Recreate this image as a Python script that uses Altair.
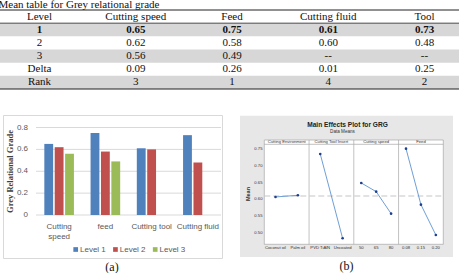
import altair as alt
import pandas as pd

# ---------------- data ----------------
table_title = "Mean table for Grey relational grade"
table_columns = ["Level", "Cutting speed", "Feed", "Cutting fluid", "Tool"]
table_levels = ["1", "2", "3", "Delta", "Rank"]
tbl_cutting_speed = ["0.65", "0.62", "0.56", "0.09", "3"]
tbl_feed = ["0.75", "0.58", "0.49", "0.26", "1"]
tbl_cutting_fluid = ["0.61", "0.60", "--", "0.01", "4"]
tbl_tool = ["0.73", "0.48", "--", "0.25", "2"]
table_shaded_rows = ["1", "3", "Rank"]

bar_categories = ["Cutting speed", "feed", "Cutting tool", "Cutting fluid"]
bar_cat_labels = ["Cutting\nspeed", "feed", "Cutting tool", "Cutting fluid"]
bar_series = ["Level 1", "Level 2", "Level 3"]
bar_level1 = [0.65, 0.75, 0.61, 0.73]
bar_level2 = [0.62, 0.58, 0.60, 0.48]
bar_level3 = [0.56, 0.49, None, None]
bar_yticks = [0.0, 0.2, 0.4, 0.6, 0.8]
bar_ytick_labels = ["0", "0.2", "0.4", "0.6", "0.8"]
bar_colors = ["#4f81bd", "#c0504d", "#9bbb59"]

me_title = "Main Effects Plot for GRG"
me_subtitle = "Data Means"
me_factors = ["Cutting Environment", "Cutting Tool Insert", "Cutting speed", "Feed"]
me_env_levels = ["Coconut oil", "Palm oil"]
me_env_means = [0.607, 0.612]
me_tool_levels = ["PVD TiAlN", "Uncoated"]
me_tool_means = [0.736, 0.483]
me_speed_levels = ["50", "65", "80"]
me_speed_means = [0.649, 0.623, 0.557]
me_feed_levels = ["0.08", "0.15", "0.20"]
me_feed_means = [0.752, 0.584, 0.493]
me_grand_mean = 0.61
me_yticks = [0.50, 0.55, 0.60, 0.65, 0.70, 0.75]
me_ytick_labels = ["0.50", "0.55", "0.60", "0.65", "0.70", "0.75"]

# ---------------- layout (pixels) ----------------
W, H = 459, 273
SERIF = "Liberation Serif"
SANS = "Liberation Sans"

one = pd.DataFrame({"k": [0]})
layers = []

# ================= TABLE =================
rows_all = ["head"] + table_levels
trec = []
for c in table_columns:
    trec.append({"row": "head", "col": c, "txt": c})
cols_vals = [table_levels, tbl_cutting_speed, tbl_feed, tbl_cutting_fluid, tbl_tool]
for i, r in enumerate(table_levels):
    for c, vals in zip(table_columns, cols_vals):
        trec.append({"row": r, "col": c, "txt": vals[i]})
tdf = pd.DataFrame(trec)

t_y = alt.Scale(type="band", domain=rows_all, range=[10, 89], paddingInner=0, paddingOuter=0)
t_x = alt.Scale(type="point", domain=table_columns, range=[39.5, 424.5], padding=0)

shade_df = pd.DataFrame({"row": table_shaded_rows})
layers.append(
    alt.Chart(shade_df).mark_rect(color="#d7d7d7").encode(
        y=alt.Y("row:N", scale=t_y, axis=None),
        x=alt.value(0), x2=alt.value(W))
)
for r, bp, sw in [("head", 0, 1.0), ("1", 0, 0.8), ("Rank", 1, 1.2)]:
    layers.append(
        alt.Chart(pd.DataFrame({"row": [r]})).mark_rule(color="#222", strokeWidth=sw).encode(
            y=alt.Y("row:N", scale=t_y, axis=None, bandPosition=bp),
            x=alt.value(0), x2=alt.value(W))
    )
layers.append(
    alt.Chart(tdf[tdf.row != "1"]).mark_text(font=SERIF, fontSize=11, color="#111", baseline="middle").encode(
        x=alt.X("col:N", scale=t_x, axis=None),
        y=alt.Y("row:N", scale=t_y, axis=None),
        text="txt:N")
)
layers.append(
    alt.Chart(tdf[tdf.row == "1"]).mark_text(font=SERIF, fontSize=11, fontWeight="bold", color="#111", baseline="middle").encode(
        x=alt.X("col:N", scale=t_x, axis=None),
        y=alt.Y("row:N", scale=t_y, axis=None),
        text="txt:N")
)
layers.append(
    alt.Chart(one).mark_text(text=table_title, font=SERIF, fontSize=11, color="#111", align="left", baseline="alphabetic").encode(
        x=alt.value(-1.5), y=alt.value(7.5))
)

# ================= BAR CHART (a) =================
brec = []
for s, vals in zip(bar_series, [bar_level1, bar_level2, bar_level3]):
    for c, v in zip(bar_categories, vals):
        if v is not None:
            brec.append({"category": c, "series": s, "value": v})
bdf = pd.DataFrame(brec)

b_x = alt.Scale(type="band", domain=bar_categories, range=[36, 221], paddingInner=0, paddingOuter=0)
b_y = alt.Scale(domain=[0, 0.8], range=[215, 127.5], nice=False, zero=True)
b_c = alt.Scale(domain=bar_series, range=bar_colors)

layers.append(
    alt.Chart(one).mark_rect(fillOpacity=0, stroke="#d9d9d9", strokeWidth=1).encode(
        x=alt.value(3.5), x2=alt.value(222.5), y=alt.value(115.5), y2=alt.value(258.5))
)
ytdf = pd.DataFrame({"v": bar_yticks, "lab": bar_ytick_labels})
layers.append(
    alt.Chart(ytdf).mark_rule(color="#d9d9d9", strokeWidth=1).encode(
        y=alt.Y("v:Q", scale=b_y, axis=None), x=alt.value(36), x2=alt.value(221))
)
layers.append(
    alt.Chart(bdf).mark_bar().encode(
        x=alt.X("category:N", scale=b_x, axis=None),
        xOffset=alt.XOffset("series:N", scale=alt.Scale(domain=bar_series, paddingInner=0.15, paddingOuter=0.8)),
        y=alt.Y("value:Q", scale=b_y, axis=None),
        color=alt.Color("series:N", scale=b_c, legend=None))
)
layers.append(
    alt.Chart(ytdf).mark_text(font=SANS, fontSize=8, color="#595959", align="right", baseline="middle").encode(
        y=alt.Y("v:Q", scale=b_y, axis=None), x=alt.value(28), text="lab:N")
)
xldf = pd.DataFrame({"category": bar_categories, "lab": bar_cat_labels})
layers.append(
    alt.Chart(xldf).mark_text(font=SANS, fontSize=8, color="#595959", baseline="top", lineBreak="\n", lineHeight=10.5).encode(
        x=alt.X("category:N", scale=b_x, axis=None), y=alt.value(222.5), text="lab:N")
)
layers.append(
    alt.Chart(one).mark_text(text="Grey Relational Grade", font=SERIF, fontSize=8.5, fontWeight="bold",
                             color="#404040", angle=270, baseline="middle").encode(
        x=alt.value(10), y=alt.value(171.5))
)
ldf = pd.DataFrame({"series": bar_series})
l_x = alt.Scale(type="point", domain=bar_series, range=[75.7, 155.2], padding=0)
layers.append(
    alt.Chart(ldf).mark_square(size=22, opacity=1).encode(
        x=alt.X("series:N", scale=l_x, axis=None), y=alt.value(249.5),
        color=alt.Color("series:N", scale=b_c, legend=None))
)
layers.append(
    alt.Chart(ldf).mark_text(font=SANS, fontSize=8, color="#595959", align="left", baseline="middle", dx=4.3).encode(
        x=alt.X("series:N", scale=l_x, axis=None), y=alt.value(249.5), text="series:N")
)
layers.append(
    alt.Chart(one).mark_text(text="(a)", font=SERIF, fontSize=12, color="#111", baseline="middle").encode(
        x=alt.value(112), y=alt.value(266.5))
)

# ================= MAIN EFFECTS (b) =================
ME_X0, ME_X1 = 264.3, 443.3
ME_STRIP_TOP, ME_PLOT_TOP, ME_PLOT_BOT = 140.0, 144.3, 244.3
pw = (ME_X1 - ME_X0) / len(me_factors)
me_y = alt.Scale(domain=[0.465, 0.765], range=[ME_PLOT_BOT, ME_PLOT_TOP], nice=False, zero=False)
me_f = alt.Scale(type="band", domain=me_factors, range=[ME_X0, ME_X1], paddingInner=0, paddingOuter=0)
ME_GRID = "#a8a8a8"
ME_TXT = "#333333"

layers.append(
    alt.Chart(one).mark_rect(color="#e7e7e7").encode(
        x=alt.value(240), x2=alt.value(453), y=alt.value(115.7), y2=alt.value(257))
)
layers.append(
    alt.Chart(one).mark_rect(fill="white", stroke=ME_GRID, strokeWidth=0.7).encode(
        x=alt.value(ME_X0), x2=alt.value(ME_X1), y=alt.value(ME_STRIP_TOP), y2=alt.value(ME_PLOT_BOT))
)
layers.append(
    alt.Chart(pd.DataFrame({"factor": me_factors[1:]})).mark_rule(color=ME_GRID, strokeWidth=0.7).encode(
        x=alt.X("factor:N", scale=me_f, axis=None, bandPosition=0),
        y=alt.value(ME_STRIP_TOP), y2=alt.value(ME_PLOT_BOT))
)
layers.append(
    alt.Chart(one).mark_rule(color=ME_GRID, strokeWidth=0.7).encode(
        x=alt.value(ME_X0), x2=alt.value(ME_X1), y=alt.value(ME_PLOT_TOP))
)
layers.append(
    alt.Chart(pd.DataFrame({"m": [me_grand_mean]})).mark_rule(color="#c6c6c6", strokeWidth=1.1, strokeDash=[6, 3]).encode(
        y=alt.Y("m:Q", scale=me_y, axis=None), x=alt.value(ME_X0), x2=alt.value(ME_X1))
)
layers.append(
    alt.Chart(pd.DataFrame({"factor": me_factors})).mark_text(font=SANS, fontSize=4.2, color=ME_TXT, baseline="middle").encode(
        x=alt.X("factor:N", scale=me_f, axis=None), y=alt.value(142.2), text="factor:N")
)

panels = [
    (me_env_levels, me_env_means),
    (me_tool_levels, me_tool_means),
    (me_speed_levels, me_speed_means),
    (me_feed_levels, me_feed_means),
]
for i, (levs, means) in enumerate(panels):
    pdf = pd.DataFrame({"level": levs, "mean": means, "idx": list(range(len(levs)))})
    xs = alt.Scale(type="point", domain=levs, range=[ME_X0 + i * pw, ME_X0 + (i + 1) * pw], padding=0.5)
    ch = alt.Chart(pdf)
    layers.append(
        ch.mark_line(color="#6f9fd6", strokeWidth=1).encode(
            x=alt.X("level:N", scale=xs, axis=None),
            y=alt.Y("mean:Q", scale=me_y, axis=None),
            order=alt.Order("idx:Q"))
    )
    layers.append(
        ch.mark_circle(size=7, color="#1f3f8c", opacity=1).encode(
            x=alt.X("level:N", scale=xs, axis=None),
            y=alt.Y("mean:Q", scale=me_y, axis=None))
    )
    layers.append(
        ch.mark_text(font=SANS, fontSize=4.2, color=ME_TXT, baseline="middle").encode(
            x=alt.X("level:N", scale=xs, axis=None), y=alt.value(248.3), text="level:N")
    )

mtdf = pd.DataFrame({"v": me_yticks, "lab": me_ytick_labels})
layers.append(
    alt.Chart(mtdf).mark_text(font=SANS, fontSize=4.2, color=ME_TXT, align="right", baseline="middle").encode(
        y=alt.Y("v:Q", scale=me_y, axis=None), x=alt.value(262.5), text="lab:N")
)
layers.append(
    alt.Chart(one).mark_text(text="Mean", font=SANS, fontSize=5.5, fontWeight="bold", color=ME_TXT, angle=270, baseline="middle").encode(
        x=alt.value(247.6), y=alt.value(194))
)
layers.append(
    alt.Chart(one).mark_text(text=me_title, font=SANS, fontSize=6.6, fontWeight="bold", color="#222", baseline="middle").encode(
        x=alt.value(347.5), y=alt.value(125))
)
layers.append(
    alt.Chart(one).mark_text(text=me_subtitle, font=SANS, fontSize=4.6, color=ME_TXT, baseline="middle").encode(
        x=alt.value(342.5), y=alt.value(132.3))
)
layers.append(
    alt.Chart(one).mark_text(text="(b)", font=SERIF, fontSize=12, color="#111", baseline="middle").encode(
        x=alt.value(346.5), y=alt.value(266))
)

chart = (
    alt.layer(*layers)
    .resolve_scale(x="independent", y="independent", color="independent")
    .properties(width=W, height=H, padding=0, autosize=alt.AutoSizeParams(type="none"), background="white")
    .configure_view(strokeWidth=0)
)

chart.save("out.html", embed_options={"renderer": "svg", "actions": False})
